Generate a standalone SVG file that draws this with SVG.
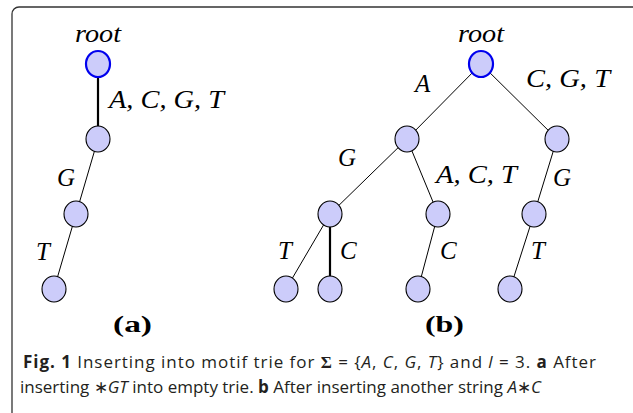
<svg xmlns="http://www.w3.org/2000/svg" width="633" height="413" viewBox="0 0 633 413">
<style>
.node{fill:#ccccfa;stroke:#000;stroke-width:1.1}
.root{fill:#ccccfa;stroke:#0000ee;stroke-width:2.2}
.e{stroke:#000;stroke-width:1;fill:none}
.eb{stroke:#000;stroke-width:2.2;fill:none}
.m{font-family:"Liberation Serif","DejaVu Serif",serif;font-style:italic;font-size:25px;fill:#000}
.sub{font-family:"Liberation Serif","DejaVu Serif",serif;font-weight:bold;font-size:23px;fill:#000}
.cap{font-family:"Open Sans","Liberation Sans",sans-serif;font-size:17px;fill:#231f20}
.b{font-weight:bold}
.i{font-style:italic}
</style>
<rect x="12" y="7" width="700" height="500" rx="7" fill="#fff" stroke="#333" stroke-width="1.3"/>
<g id="connectors">
<line class="eb" x1="98" y1="64" x2="98" y2="139"/>
<line class="e" x1="98" y1="139" x2="76" y2="214"/>
<line class="e" x1="76" y1="214" x2="54" y2="289"/>
<line class="e" x1="481" y1="64" x2="407" y2="139"/>
<line class="e" x1="481" y1="64" x2="557" y2="139"/>
<line class="e" x1="407" y1="139" x2="330" y2="214"/>
<line class="e" x1="407" y1="139" x2="438" y2="214"/>
<line class="e" x1="557" y1="139" x2="534" y2="214"/>
<line class="e" x1="330" y1="214" x2="286" y2="289"/>
<line class="eb" x1="330" y1="214" x2="330" y2="289"/>
<line class="e" x1="438" y1="214" x2="418" y2="289"/>
<line class="e" x1="534" y1="214" x2="510" y2="289"/>
</g>
<g id="a-root"><ellipse class="root" cx="98" cy="64" rx="12" ry="13"/></g>
<g id="a-n1"><ellipse class="node" cx="98" cy="139" rx="12" ry="13"/></g>
<g id="a-n2"><ellipse class="node" cx="76" cy="214" rx="12" ry="13"/></g>
<g id="a-n3"><ellipse class="node" cx="54" cy="289" rx="12" ry="13"/></g>
<g id="b-root"><ellipse class="root" cx="481" cy="64" rx="12" ry="13"/></g>
<g id="b-A"><ellipse class="node" cx="407" cy="139" rx="12" ry="13"/></g>
<g id="b-CGT"><ellipse class="node" cx="557" cy="139" rx="12" ry="13"/></g>
<g id="b-AG"><ellipse class="node" cx="330" cy="214" rx="12" ry="13"/></g>
<g id="b-AACT"><ellipse class="node" cx="438" cy="214" rx="12" ry="13"/></g>
<g id="b-CGTG"><ellipse class="node" cx="534" cy="214" rx="12" ry="13"/></g>
<g id="b-AGT"><ellipse class="node" cx="286" cy="289" rx="12" ry="13"/></g>
<g id="b-AGC"><ellipse class="node" cx="330" cy="289" rx="12" ry="13"/></g>
<g id="b-AACTC"><ellipse class="node" cx="418" cy="289" rx="12" ry="13"/></g>
<g id="b-CGTGT"><ellipse class="node" cx="510" cy="289" rx="12" ry="13"/></g>
<g id="labels">
<text class="m" x="75" y="42" textLength="46" lengthAdjust="spacingAndGlyphs">root</text>
<text class="m" x="109" y="108" textLength="115" lengthAdjust="spacingAndGlyphs">A, C, G, T</text>
<text class="m" x="57" y="186">G</text>
<text class="m" x="36" y="260">T</text>
<text class="m" x="458" y="42" textLength="46" lengthAdjust="spacingAndGlyphs">root</text>
<text class="m" x="415" y="92">A</text>
<text class="m" x="526" y="87" textLength="84" lengthAdjust="spacingAndGlyphs">C, G, T</text>
<text class="m" x="338" y="166">G</text>
<text class="m" x="436" y="183" textLength="81" lengthAdjust="spacingAndGlyphs">A, C, T</text>
<text class="m" x="553" y="186">G</text>
<text class="m" x="278" y="259">T</text>
<text class="m" x="340" y="259">C</text>
<text class="m" x="440" y="259">C</text>
<text class="m" x="531" y="259">T</text>
<text class="sub" x="113" y="332" textLength="39" lengthAdjust="spacingAndGlyphs">(a)</text>
<text class="sub" x="425" y="332" textLength="39" lengthAdjust="spacingAndGlyphs">(b)</text>
</g>
<g id="caption">
<text class="cap" x="23" y="368" textLength="573" lengthAdjust="spacing"><tspan class="b">Fig. 1</tspan> Inserting into motif trie for <tspan class="b" font-family="Liberation Serif, serif">Σ</tspan> = {<tspan class="i">A</tspan>, <tspan class="i">C</tspan>, <tspan class="i">G</tspan>, <tspan class="i">T</tspan>} and <tspan class="i">l</tspan> = 3. <tspan class="b">a</tspan> After</text>
<text class="cap" x="20" y="393">inserting ∗<tspan class="i">GT</tspan> into empty trie. <tspan class="b">b</tspan> After inserting another string <tspan class="i">A</tspan>∗<tspan class="i">C</tspan></text>
</g>
</svg>
